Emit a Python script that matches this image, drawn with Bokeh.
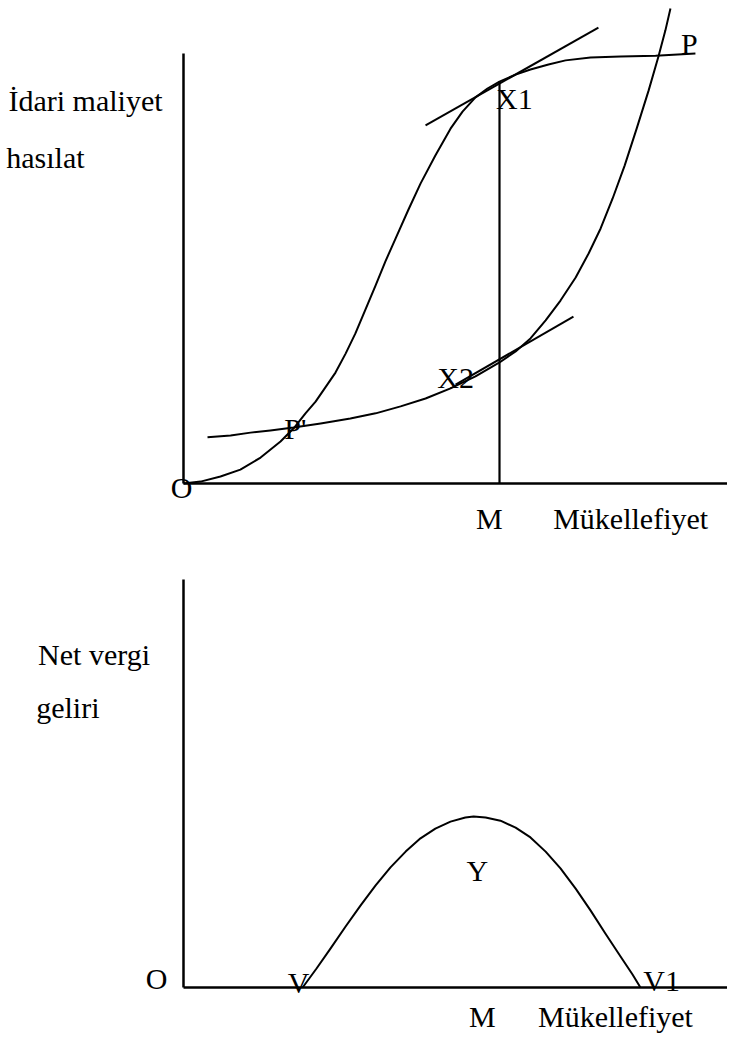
from bokeh.plotting import figure
from bokeh.layouts import column
from bokeh.models import Range1d
from bokeh.core.properties import value
from bokeh.embed import file_html
from bokeh.resources import INLINE

FONT = "Liberation Serif"

# ---------------- data (units: O = 0, M = 10) ----------------
# Top panel: S-shaped curve (O -> P' -> X1 -> flattening towards P)
s_curve_x = [0.0, 0.54, 1.17, 1.80, 2.44, 3.07, 3.48, 3.86, 4.18, 4.49, 4.81, 5.13, 5.44, 5.76,
             6.08, 6.39, 6.71, 7.12, 7.50, 7.97, 8.45, 8.83, 9.24, 9.62, 10.0, 10.51, 10.98,
             11.55, 12.09, 12.88, 13.83, 14.94, 16.20]
s_curve_y = [0.0, 0.06, 0.22, 0.44, 0.82, 1.33, 1.74, 2.22, 2.59, 3.04, 3.51, 4.11, 4.75, 5.51,
             6.27, 7.03, 7.75, 8.67, 9.49, 10.38, 11.23, 11.77, 12.22, 12.50, 12.72, 12.94, 13.10,
             13.26, 13.39, 13.48, 13.51, 13.54, 13.61]

# Top panel: convex curve (P' -> X2 -> rising steeply past P)
c_curve_x = [0.76, 1.49, 2.12, 2.75, 3.48, 4.34, 5.28, 6.08, 6.87, 7.66, 8.45, 9.24, 10.0, 10.51,
             10.98, 11.46, 11.93, 12.41, 12.82, 13.20, 13.58, 13.96, 14.34, 14.72, 15.03, 15.25, 15.41]
c_curve_y = [1.46, 1.52, 1.61, 1.68, 1.77, 1.90, 2.06, 2.22, 2.44, 2.69, 3.01, 3.39, 3.83, 4.18,
             4.59, 5.16, 5.79, 6.52, 7.28, 8.07, 9.02, 10.06, 11.23, 12.44, 13.51, 14.34, 15.03]

# tangent lines at X1 and X2
tan1_x = [7.66, 13.13]
tan1_y = [11.33, 14.43]
tan2_x = [8.61, 12.34]
tan2_y = [3.13, 5.28]

# vertical line at M up to X1
m_level = 10.0
x1_height = 12.72

# axes extents
top_axis_x_end = 17.3
top_axis_y_end = 13.61
bot_axis_x_end = 17.3
bot_axis_y_end = 12.91

# Bottom panel: net tax revenue hump (V -> Y -> V1)
hump_x = [3.77, 4.21, 4.65, 5.13, 5.60, 6.08, 6.55, 7.03, 7.50, 7.97, 8.45, 8.92, 9.18, 9.56,
          10.03, 10.51, 10.98, 11.46, 11.93, 12.41, 12.88, 13.35, 13.83, 14.21, 14.46]
hump_y = [0.0, 0.60, 1.23, 1.93, 2.59, 3.23, 3.80, 4.30, 4.72, 5.03, 5.25, 5.38, 5.41, 5.38,
          5.28, 5.06, 4.75, 4.30, 3.77, 3.13, 2.44, 1.71, 0.98, 0.41, 0.0]

# labels
top_labels = ["İdari maliyet", "hasılat", "X1", "P", "P'", "X2", "O", "M", "Mükellefiyet"]
top_lx = [-3.10, -4.37, 10.47, 16.01, 3.54, 8.61, -0.06, 9.68, 14.15]
top_ly = [12.12, 10.32, 12.18, 13.92, 1.74, 3.35, -0.13, -1.10, -1.10]

bot_labels = ["Net vergi", "geliri", "O", "V", "Y", "V1", "M", "Mükellefiyet"]
bot_lx = [-2.83, -3.66, -0.85, 3.64, 9.30, 15.13, 9.46, 13.67]
bot_ly = [10.54, 8.86, 0.28, 0.16, 3.70, 0.22, -0.92, -0.92]

# ---------------- figure helpers ----------------
X_RANGE = (-5.791, 17.215)


def make_fig(h, y0, y1):
    p = figure(width=727, height=h, x_range=Range1d(*X_RANGE), y_range=Range1d(y0, y1),
               output_backend="svg", toolbar_location=None, min_border=0,
               x_axis_location=None, y_axis_location=None, outline_line_color=None,
               background_fill_color="white", border_fill_color="white")
    p.grid.visible = False
    return p


def add_labels(p, texts, xs, ys, size):
    p.text(x=xs, y=ys, text=texts, text_font=value(FONT), text_font_size=size,
           text_align="center", text_baseline="alphabetic", text_color="black")


# ---------------- top panel ----------------
top = make_fig(537, -1.709, 15.285)
top.line([0, 0], [0, top_axis_y_end], line_width=2.5, color="black")
top.line([0, top_axis_x_end], [0, 0], line_width=2.5, color="black")
top.line([m_level, m_level], [0, x1_height], line_width=2.2, color="black")
top.line(s_curve_x, s_curve_y, line_width=2, color="black", line_join="round")
top.line(c_curve_x, c_curve_y, line_width=2, color="black", line_join="round")
top.line(tan1_x, tan1_y, line_width=2, color="black")
top.line(tan2_x, tan2_y, line_width=2, color="black")
add_labels(top, top_labels, top_lx, top_ly, "30px")

# ---------------- bottom panel ----------------
bot = make_fig(502, -1.646, 14.241)
bot.line([0, 0], [0, bot_axis_y_end], line_width=2.5, color="black")
bot.line([0, bot_axis_x_end], [0, 0], line_width=2.5, color="black")
bot.line(hump_x, hump_y, line_width=2, color="black", line_join="round")
add_labels(bot, bot_labels, bot_lx, bot_ly, "30px")

layout = column(top, bot, spacing=0)
open("out.html", "w").write(file_html(layout, INLINE))
